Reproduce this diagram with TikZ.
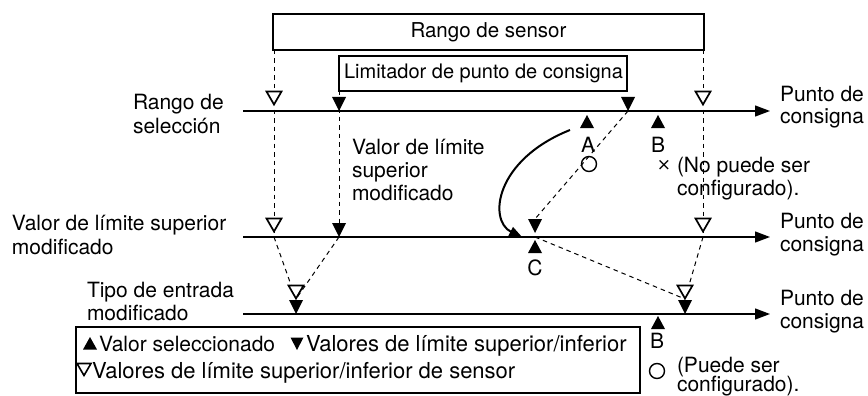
\documentclass[tikz,border=0pt]{standalone}
\usepackage{fontspec}
\setmainfont{TeX Gyre Heros}
\newfontfamily\djsym{DejaVu Sans}
\usetikzlibrary{arrows.meta}
\begin{document}
\begin{tikzpicture}[x=1pt,y=-1pt,
  every node/.style={inner sep=0pt, outer sep=0pt, font=\fontsize{21}{24}\selectfont},
  lbl/.style={anchor=base west},
  ctr/.style={anchor=base},
  leglbl/.style={anchor=base west, font=\fontsize{22}{24}\selectfont},
  axis/.style={line width=1.3pt, -{Triangle[length=15pt,width=11pt]}},
  dsh/.style={line width=1pt, dash pattern=on 4.5pt off 4pt},
  boxstyle/.style={draw, line width=2.2pt, inner sep=0pt},
  otri/.pic={\draw[line width=1.7pt, fill=white, line join=miter] (0,-1.5) -- (-7.5,-14.5) -- (7.5,-14.5) -- cycle;},
  dtri/.pic={\fill (0,0) -- (-7,-14) -- (7,-14) -- cycle;},
  utri/.pic={\fill (0,0) -- (-7,13) -- (7,13) -- cycle;},
  ltri/.pic={\fill (0,0) -- (-7,12.5) -- (7,12.5) -- cycle;},
  ldtri/.pic={\fill (0,0) -- (-6.5,-12.5) -- (6.5,-12.5) -- cycle;},
  lotri/.pic={\draw[line width=1.6pt, line join=miter] (0,-1.5) -- (-7,-13.5) -- (7,-13.5) -- cycle;},
]
\useasboundingbox (0,0) rectangle (868,396);

% boxes
\node[boxstyle, minimum width=431pt, minimum height=36pt, anchor=north west] (sensor) at (273,14) {};
\node[font=\fontsize{20.5}{24}\selectfont] at (sensor.center) {Rango de sensor};
\node[boxstyle, minimum width=288pt, minimum height=35pt, anchor=north west] (limit) at (339,56) {};
\node[font=\fontsize{20}{24}\selectfont] at ([xshift=0.5pt]limit.center) {Limitador de punto de consigna};

% axes
\coordinate (l1s) at (243,111); \coordinate (l1e) at (770,111);
\coordinate (l2s) at (243,237); \coordinate (l2e) at (770,237);
\coordinate (l3s) at (243,314); \coordinate (l3e) at (770,314);
\draw[axis] (l1s) -- (l1e);
\draw[axis] (l2s) -- (l2e);
\draw[axis] (l3s) -- (l3e);

% key points
\coordinate (sL) at (274,50);  \coordinate (sR) at (703,50);
\coordinate (mL) at (339,91);
\coordinate (p1L) at (274,237); \coordinate (p2L) at (339,237);
\coordinate (pC) at (535,237);  \coordinate (p2R) at (703,237);
\coordinate (q1) at (628,111);  \coordinate (qC) at (535,219);
\coordinate (bL) at (296,299);  \coordinate (bR) at (685,299);

% dashed connectors
\draw[dsh] (sL) -- (p1L);
\draw[dsh] (mL) -- (p2L);
\draw[dsh] (sR) -- (p2R);
\draw[dsh] (q1) -- (qC);
\draw[dsh] (p1L) -- (bL);
\draw[dsh] (p2L) -- (bL);
\draw[dsh] (pC) -- (bR);
\draw[dsh] (p2R) -- (bR);

% markers line 1
\pic at (274,106) {otri};
\pic at (703,106) {otri};
\pic at (339,111) {dtri};
\pic at (628,111) {dtri};
\pic at (587,115) {utri};
\pic at (658,115) {utri};
% markers line 2
\pic at (274,233) {otri};
\pic at (703,233) {otri};
\pic at (339,237) {dtri};
\pic at (535,233) {dtri};
\pic at (535,240) {utri};
% markers line 3
\pic at (296,314) {dtri};
\pic at (296,300) {otri};
\pic at (685,314) {dtri};
\pic at (685,300) {otri};
\pic at (658,316) {utri};

% curved arrow
\coordinate (cs) at (570,130); \coordinate (ce) at (523,238);
\draw[line width=2pt, -{Triangle[length=14pt,width=10pt]}] (cs) .. controls (495,160) and (488,220) .. (ce);

% left labels
\node[lbl] (t1a) at (133,110) {Rango de};
\node[lbl] (t1b) at (133,133) {selección};
\node[lbl] (t2a) at (12,230) {Valor de límite superior};
\node[lbl] (t2b) at (12,254) {modificado};
\node[lbl] (t3a) at (87,297) {Tipo de entrada};
\node[lbl] (t3b) at (87,320) {modificado};
% mid label
\node[lbl] (m1) at (352,154) {Valor de límite};
\node[lbl] (m2) at (352,177) {superior};
\node[lbl] (m3) at (352,200) {modificado};
% right labels
\node[lbl] (r1a) at (780,101) {Punto de};
\node[lbl] (r1b) at (780,124) {consigna};
\node[lbl] (r2a) at (780,228) {Punto de};
\node[lbl] (r2b) at (780,251) {consigna};
\node[lbl] (r3a) at (780,305) {Punto de};
\node[lbl] (r3b) at (780,328) {consigna};

% A, B, C
\node[ctr] (A) at (588,152) {A};
\node[draw, circle, line width=1.4pt, minimum size=15pt] (oA) at (589,164) {};
\node[ctr] (B1) at (658,152) {B};
\node (x1) at (664,165) {\djsym\fontsize{17}{17}\selectfont ×};
\node[lbl] (n1) at (677,172) {(No puede ser};
\node[lbl] (n2) at (677,195) {configurado).};
\node[ctr] (C) at (535,275) {C};
\node[ctr] (B2) at (657,348) {B};
\node[draw, circle, line width=1.4pt, minimum size=15pt] (oB) at (657,371) {};
\node[lbl] (p1) at (677,372) {(Puede ser};
\node[lbl] (p2) at (677,391) {configurado).};

% legend
\node[draw, line width=1.5pt, minimum width=564pt, minimum height=66pt, anchor=north west] (leg) at (76,327) {};
\pic at (90,337) {ltri};
\node[lbl] (lg1) at (99,351) {Valor seleccionado};
\pic at (297,350) {ldtri};
\node[leglbl] (lg2) at (306,351) {Valores de límite superior/inferior};
\pic at (84,377) {lotri};
\node[leglbl] (lg3) at (92,378) {Valores de límite superior/inferior de sensor};
\end{tikzpicture}
\end{document}
